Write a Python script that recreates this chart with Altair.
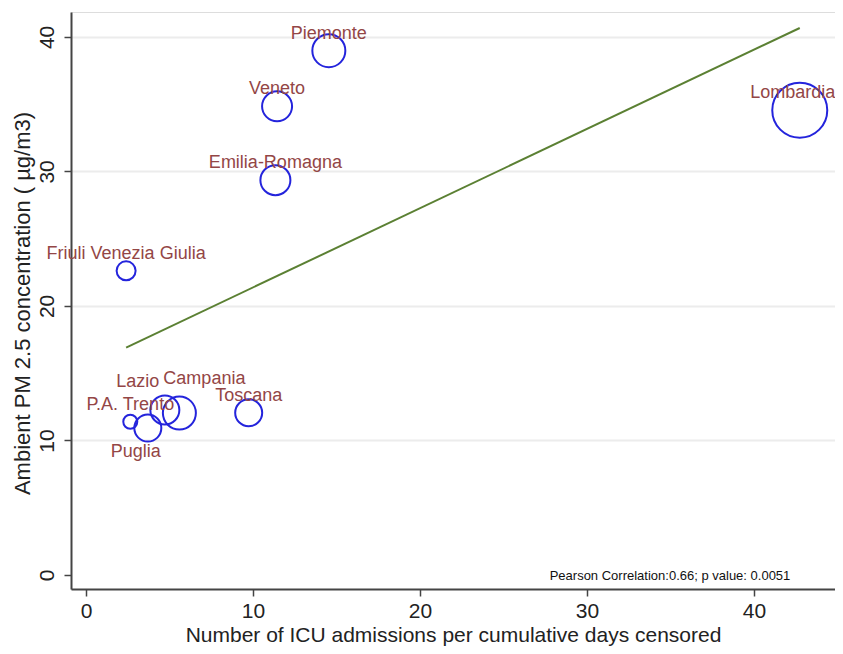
import altair as alt
import pandas as pd

# ---- data ----
regions = ["Piemonte", "Veneto", "Emilia-Romagna", "Lombardia", "Friuli Venezia Giulia",
           "Toscana", "P.A. Trento", "Puglia", "Lazio", "Campania"]
icu_rate = [14.54, 11.44, 11.34, 42.74, 2.40, 9.74, 2.65, 3.70, 4.72, 5.59]
pm25 = [38.97, 34.84, 29.35, 34.55, 22.61, 12.06, 11.39, 10.92, 12.26, 12.04]
weight = [1089, 900, 900, 3025, 361, 729, 196, 729, 841, 1089]

x_ticks = [0, 10, 20, 30, 40]
y_ticks = [0, 10, 20, 30, 40]
x_title = "Number of ICU admissions per cumulative days censored"
y_title = "Ambient PM 2.5 concentration ( µg/m3)"
note = "Pearson Correlation:0.66; p value: 0.0051"

FONT = "Liberation Sans"
LABEL_COLOR = "#934646"
BUBBLE_COLOR = "#2424dc"
LINE_COLOR = "#5b8033"
AXIS_COLOR = "#444444"

df = pd.DataFrame({"region": regions, "icu": icu_rate, "pm": pm25, "w": weight})

xs = alt.Scale(domain=[-0.9, 44.85], nice=False, zero=False)
ys = alt.Scale(domain=[-1.04, 41.85], nice=False, zero=False)

x_axis = alt.Axis(values=x_ticks, title=x_title, grid=False, tickSize=7, tickWidth=1.5,
                  tickColor=AXIS_COLOR, domainColor=AXIS_COLOR, domainWidth=2,
                  labelPadding=4, labelFontSize=21, labelColor="#222222", labelFont=FONT,
                  titleFont=FONT, titleFontSize=21, titleFontWeight="normal",
                  titleColor="#222222", titleY=52, titleBaseline="alphabetic")
y_axis = alt.Axis(values=y_ticks, title=y_title, tickSize=7, tickWidth=1.5,
                  tickColor=AXIS_COLOR, domainColor=AXIS_COLOR, domainWidth=2,
                  labelAngle=270, labelAlign="center", labelBaseline="alphabetic",
                  labelPadding=11, labelFontSize=21, labelColor="#222222", labelFont=FONT,
                  titleFont=FONT, titleFontSize=22, titleFontWeight="normal",
                  titleColor="#222222", titleAngle=270, titleX=-42, titleY=291,
                  titleAlign="center", titleBaseline="alphabetic",
                  grid=True, gridWidth=2,
                  gridColor={"condition": {"test": "datum.value === 0", "value": "transparent"},
                             "value": "#ececec"})

base = alt.Chart(df)

bubbles = base.mark_point(shape="circle", filled=False, stroke=BUBBLE_COLOR,
                          strokeWidth=2, opacity=1).encode(
    x=alt.X("icu:Q", scale=xs, axis=x_axis),
    y=alt.Y("pm:Q", scale=ys, axis=y_axis),
    size=alt.Size("w:Q", scale=alt.Scale(type="linear", domain=[0, 3025], range=[0, 3025]),
                  legend=None),
)

fit = base.transform_regression("icu", "pm").mark_line(
    color=LINE_COLOR, strokeWidth=2).encode(x="icu:Q", y="pm:Q")

def label_layer(filt, dx, dy):
    return base.transform_filter(filt).mark_text(
        font=FONT, fontSize=18, color=LABEL_COLOR, align="center",
        baseline="middle", dx=dx, dy=dy).encode(x="icu:Q", y="pm:Q", text="region:N")

special = "['Lazio','Campania','Puglia','Lombardia']"
labels_main = label_layer(f"indexof({special}, datum.region) < 0", 0, -17)
labels_lazio = label_layer(alt.datum.region == "Lazio", -27, -28)
labels_camp = label_layer(alt.datum.region == "Campania", 25, -34)
labels_puglia = label_layer(alt.datum.region == "Puglia", -12, 24)
labels_lomb = label_layer(alt.datum.region == "Lombardia", -7, -17)

annot = alt.Chart(pd.DataFrame({"t": [note]})).mark_text(
    font=FONT, fontSize=13, color="#111111", align="center", baseline="alphabetic"
).encode(x=alt.value(599), y=alt.value(568), text="t:N")

chart = alt.layer(fit, bubbles, labels_main, labels_lazio, labels_camp, labels_puglia,
                  labels_lomb, annot).properties(
    width=764, height=577,
    padding={"left": 63, "top": 4, "right": 0, "bottom": 57},
    autosize="none",
).configure_view(stroke=None).configure(background="white")

chart.save("out.html", embed_options={"renderer": "svg", "actions": False})
